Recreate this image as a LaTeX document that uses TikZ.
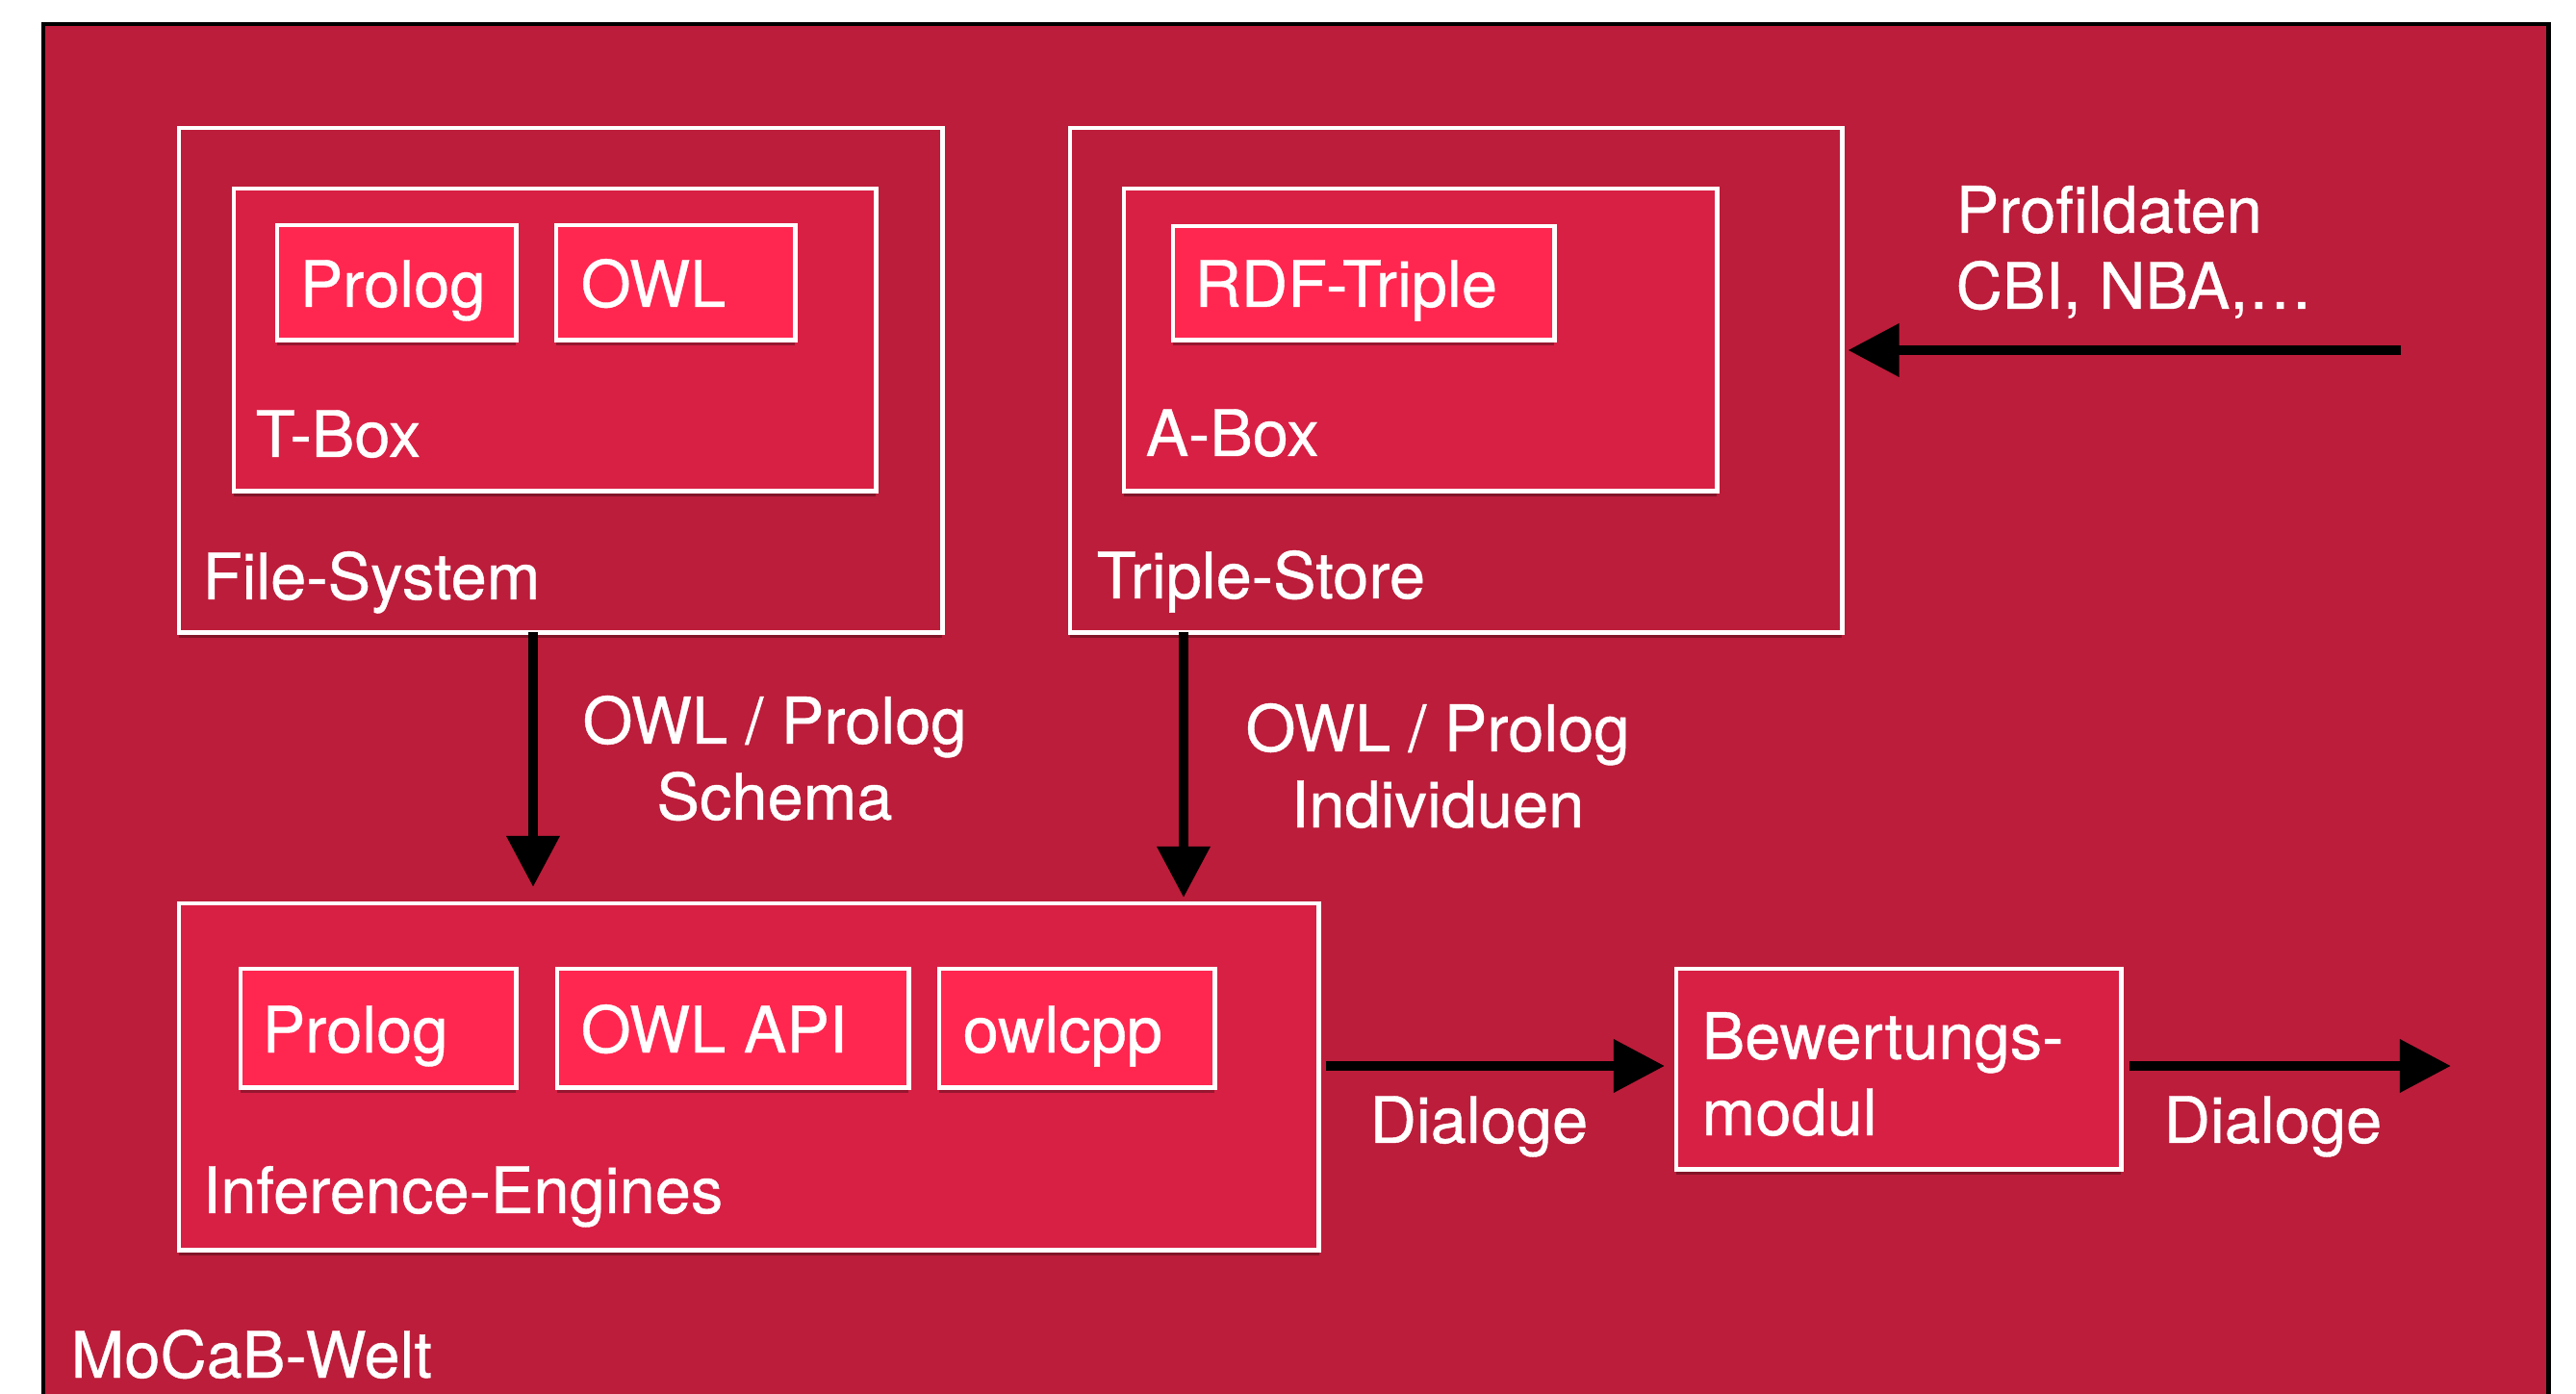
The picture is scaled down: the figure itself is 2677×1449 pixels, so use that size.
\documentclass[tikz,border=0pt]{standalone}
\usepackage{fontspec}
\setmainfont{TeX Gyre Heros}[UprightFeatures={FakeBold=0.6}]
\usetikzlibrary{arrows.meta,shadows,calc}
\definecolor{bgred}{RGB}{188,29,58}
\definecolor{midred}{RGB}{216,32,68}
\definecolor{hired}{RGB}{255,39,80}
\begin{document}
\begin{tikzpicture}[x=0.01cm,y=-0.01cm,
  frame/.style={draw=white, line width=1.4pt, anchor=north west, inner sep=0pt, outer sep=0pt,
    drop shadow={shadow xshift=0cm, shadow yshift=-0.06cm, opacity=0.3, fill=black}},
  lvlone/.style={frame, fill=bgred},
  lvltwo/.style={frame, fill=midred},
  lvlthree/.style={frame, fill=hired},
  lbl/.style={text=white, font=\fontsize{19}{22.5}\selectfont, inner sep=0pt, anchor=base west},
  arr/.style={draw=black, line width=0.1cm, -{Triangle[length=0.53cm,width=0.53cm]}}
]
\useasboundingbox (0,0) rectangle (2677,1449);
\fill[white] (0,0) rectangle (2677,1449);
\node[draw=black, fill=bgred, line width=1.2pt, anchor=north west, inner sep=0pt, outer sep=0pt,
  minimum width=26.02cm, minimum height=14.8cm] (welt) at (45,25) {};

% File-System
\node[lvlone, minimum width=7.93cm, minimum height=5.24cm] (fs) at (186,133) {};
\node[lvltwo, minimum width=6.67cm, minimum height=3.14cm] (tbox) at (243,196) {};
\node[lvlthree, minimum width=2.48cm, minimum height=1.19cm] (prologA) at (288,234) {};
\node[lvlthree, minimum width=2.48cm, minimum height=1.19cm] (owlA) at (578,234) {};
\node[lbl] (tprologA) at (311,319) {Prolog};
\node[lbl] (towlA) at (603,319) {OWL};
\node[lbl] (ttbox) at (265,475) {T-Box};
\node[lbl] (tfs) at (210,623) {File-System};

% Triple-Store
\node[lvlone, minimum width=8.02cm, minimum height=5.24cm] (ts) at (1112,133) {};
\node[lvltwo, minimum width=6.16cm, minimum height=3.14cm] (abox) at (1168,196) {};
\node[lvlthree, minimum width=3.96cm, minimum height=1.18cm] (rdf) at (1219,235) {};
\node[lbl] (trdf) at (1241,319) {RDF-Triple};
\node[lbl] (tabox) at (1190,474) {A-Box};
\node[lbl] (tts) at (1139,622) {Triple-Store};

% Profildaten
\node[lbl, align=left] (prof) at (2032,321) {Profildaten\\CBI, NBA,…};
\coordinate (profsrc) at (2495,364);
\draw[arr, shorten >=0.06cm] (profsrc) -- (ts.east |- profsrc);

% Inference-Engines
\node[lvltwo, minimum width=11.84cm, minimum height=3.6cm] (ie) at (186,939) {};
\node[lvlthree, minimum width=2.86cm, minimum height=1.23cm] (prologB) at (250,1007) {};
\node[lvlthree, minimum width=3.65cm, minimum height=1.23cm] (owlapi) at (579,1007) {};
\node[lvlthree, minimum width=2.86cm, minimum height=1.23cm] (owlcpp) at (976,1007) {};
\node[lbl] (tprologB) at (272,1094) {Prolog};
\node[lbl] (towlapi) at (603,1094) {OWL API};
\node[lbl] (towlcpp) at (1000,1094) {owlcpp};
\node[lbl] (tie) at (210,1261) {Inference-Engines};
\node[lbl] (twelt) at (73,1432) {MoCaB-Welt};

% Bewertungsmodul
\node[lvltwo, minimum width=4.62cm, minimum height=2.08cm] (bw) at (1742,1007) {};
\node[lbl, align=left] (tbw) at (1768,1180) {Bewertungs-\\modul};

% vertical arrows
\coordinate (xa) at (554,0);
\coordinate (xb) at (1230,0);
\draw[arr, shorten >=0.17cm] (fs.south -| xa) -- (ie.north -| xa);
\draw[arr, shorten >=0.06cm] (ts.south -| xb) -- (ie.north -| xb);
\node[lbl, anchor=base, align=center] (schema) at (805,852) {OWL / Prolog\\Schema};
\node[lbl, anchor=base, align=center] (indiv) at (1494,860) {OWL / Prolog\\Individuen};

% Dialoge arrows
\coordinate (ya) at (0,1108);
\coordinate (dout) at (2547,1108);
\draw[arr, shorten <=0.07cm, shorten >=0.12cm] (ie.east |- ya) -- (bw.west |- ya);
\draw[arr, shorten <=0.09cm] (bw.east |- dout) -- (dout);
\node[lbl] (dialA) at (1423,1188) {Dialoge};
\node[lbl] (dialB) at (2248,1188) {Dialoge};
\end{tikzpicture}
\end{document}
